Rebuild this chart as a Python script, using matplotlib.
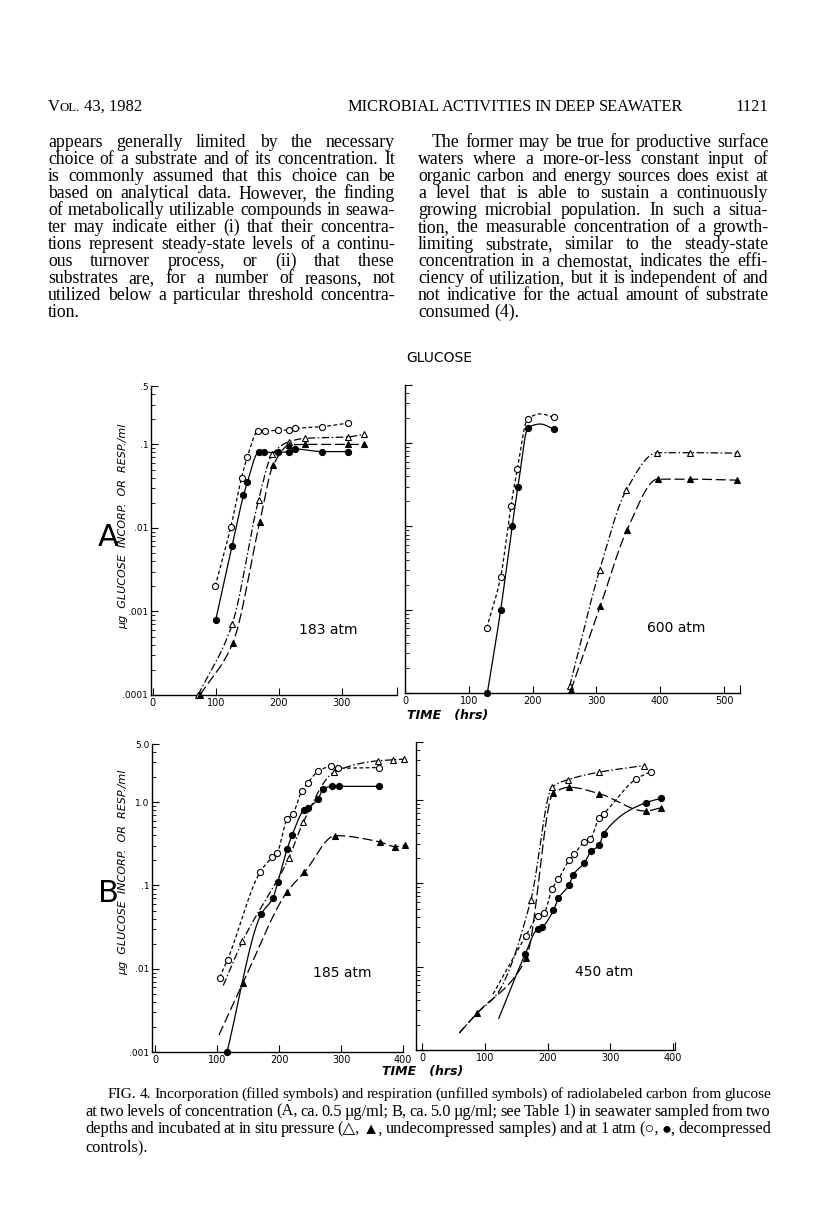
import numpy as np
import matplotlib
matplotlib.use("Agg")
import matplotlib.pyplot as plt
from matplotlib.ticker import LogLocator, NullFormatter, FixedLocator

W, H = 816, 1211

# ---------------- data (hours, ug/ml) ----------------
# Panel A, 183 atm
a183_oc_t = [99, 124, 141, 150, 167, 178, 199, 216, 226, 269, 310]
a183_oc_v = [0.002, 0.0104, 0.040, 0.071, 0.143, 0.143, 0.148, 0.148, 0.155, 0.163, 0.18]
a183_fc_t = [100, 126, 144, 150, 168, 177, 199, 216, 226, 269, 310]
a183_fc_v = [0.0008, 0.0061, 0.0245, 0.035, 0.080, 0.080, 0.080, 0.082, 0.088, 0.082, 0.082]
a183_ot_t = [72, 126, 168, 190, 217, 241, 310, 336]
a183_ot_v = [0.0001, 0.0007, 0.0216, 0.077, 0.108, 0.118, 0.123, 0.132]
a183_ft_t = [75, 127, 170, 191, 217, 241, 310, 336]
a183_ft_v = [0.0001, 0.00042, 0.0119, 0.056, 0.098, 0.100, 0.100, 0.100]

# Panel A, 600 atm
a600_oc_t = [128, 150, 166, 176, 192, 233]
a600_oc_v = [0.0006, 0.0025, 0.0177, 0.049, 0.194, 0.205]
a600_fc_t = [129, 150, 168, 177, 193, 234]
a600_fc_v = [0.0001, 0.001, 0.0102, 0.030, 0.154, 0.147]
a600_ot_t = [258, 305, 347, 395, 447, 520]
a600_ot_v = [0.00012, 0.003, 0.0275, 0.077, 0.077, 0.076]
a600_ft_t = [260, 306, 348, 396, 447, 520]
a600_ft_v = [0.000108, 0.0011, 0.0091, 0.037, 0.037, 0.036]
# smooth hump of the 1-atm curves between the last two samples
a600_oc_knot_t, a600_oc_knot_v = [212], [0.225]
a600_fc_knot_t, a600_fc_knot_v = [212], [0.17]

# Panel B, 185 atm
b185_oc_t = [104, 117, 170, 189, 197, 213, 222, 237, 246, 263, 284, 295, 362]
b185_oc_v = [0.0078, 0.0129, 0.147, 0.218, 0.248, 0.624, 0.72, 1.38, 1.69, 2.34, 2.69, 2.56, 2.61]
b185_fc_t = [116, 171, 190, 198, 213, 221, 240, 247, 263, 271, 285, 296, 362]
b185_fc_v = [0.001, 0.045, 0.0706, 0.109, 0.274, 0.40, 0.80, 0.855, 1.10, 1.43, 1.55, 1.55, 1.55]
b185_ot_t = [141, 216, 239, 289, 359, 384, 402]
b185_ot_v = [0.0214, 0.216, 0.574, 2.3, 3.14, 3.23, 3.29]
b185_ft_t = [142, 213, 241, 291, 363, 387, 403]
b185_ft_v = [0.0068, 0.084, 0.144, 0.397, 0.333, 0.293, 0.304]
# curve starts without symbols
b185_ot_lead_t, b185_ot_lead_v = [110], [0.0063]
b185_ft_lead_t, b185_ft_lead_v = [103], [0.0016]

# Panel B, 450 atm
b450_oc_t = [165, 185, 194, 207, 217, 234, 242, 258, 268, 282, 289, 341, 364]
b450_oc_v = [0.0233, 0.041, 0.0437, 0.087, 0.112, 0.19, 0.223, 0.313, 0.343, 0.614, 0.686, 1.80, 2.19]
b450_fc_t = [164, 184, 191, 209, 217, 234.5, 241, 258.6, 269, 282, 289, 356, 380]
b450_fc_v = [0.0141, 0.0286, 0.030, 0.0474, 0.066, 0.097, 0.128, 0.177, 0.244, 0.286, 0.394, 0.93, 1.05]
b450_ot_t = [173, 207, 233, 282, 354]
b450_ot_v = [0.0625, 1.43, 1.77, 2.17, 2.61]
b450_ft_t = [87, 166, 209, 234.5, 282, 356, 380]
b450_ft_v = [0.00275, 0.0128, 1.22, 1.43, 1.2, 0.74, 0.81]
b450_ot_lead_t, b450_ot_lead_v = [59, 87, 120], [0.0016, 0.00275, 0.0048]
b450_ft_lead_t, b450_ft_lead_v = [59], [0.0016]
b450_oc_lead_t, b450_oc_lead_v = [113], [0.0047]
b450_fc_lead_t, b450_fc_lead_v = [122], [0.0024]

a_yticks = [1e-4, 1e-3, 1e-2, 1e-1, 0.5]
a_ylabels = [".0001", ".001", ".01", ".1", ".5"]
b_yticks = [1e-3, 1e-2, 1e-1, 1.0, 5.0]
b_ylabels = [".001", ".01", ".1", "1.0", "5.0"]

# ---------------- helpers ----------------
def pchip(x, y, xn):
    x = np.asarray(x, float); y = np.asarray(y, float)
    h = np.diff(x); d = np.diff(y) / h
    n = len(x)
    m = np.zeros(n)
    for k in range(1, n - 1):
        if d[k - 1] * d[k] <= 0:
            m[k] = 0.0
        else:
            w1 = 2 * h[k] + h[k - 1]; w2 = h[k] + 2 * h[k - 1]
            m[k] = (w1 + w2) / (w1 / d[k - 1] + w2 / d[k])
    m[0] = d[0]; m[-1] = d[-1]
    idx = np.clip(np.searchsorted(x, xn) - 1, 0, n - 2)
    t = (xn - x[idx]) / h[idx]
    h00 = 2 * t**3 - 3 * t**2 + 1; h10 = t**3 - 2 * t**2 + t
    h01 = -2 * t**3 + 3 * t**2; h11 = t**3 - t**2
    return h00 * y[idx] + h10 * h[idx] * m[idx] + h01 * y[idx + 1] + h11 * h[idx] * m[idx + 1]

def curve(ax, t, v, ls, lead_t=(), lead_v=()):
    tt = list(lead_t) + list(t); vv = list(lead_v) + list(v)
    order = np.argsort(tt, kind="stable")
    tt = np.array(tt, float)[order]; vv = np.array(vv, float)[order]
    keep = np.concatenate([[True], np.diff(tt) > 0])
    tt, vv = tt[keep], vv[keep]
    xn = np.linspace(tt[0], tt[-1], 400)
    yn = 10 ** pchip(tt, np.log10(vv), xn)
    ax.plot(xn, yn, color="black", lw=0.9, ls=ls, zorder=2, clip_on=False)

def marks(ax, t, v, marker, filled):
    ax.plot(t, v, ls="none", marker=marker, ms=4.4 if marker == "o" else 4.8,
            mfc="black" if filled else "white", mec="black", mew=0.8,
            zorder=3, clip_on=False)

LS_OC = (0, (3.0, 2.0))
LS_FC = "-"
LS_OT = (0, (6.0, 2.0, 1.2, 2.0))
LS_FT = (0, (8.0, 3.0))

def series(ax, oc, fc, ot, ft, leads=None):
    leads = leads or {}
    curve(ax, *oc, LS_OC, *leads.get("oc", ((), ())))
    curve(ax, *fc, LS_FC, *leads.get("fc", ((), ())))
    curve(ax, *ot, LS_OT, *leads.get("ot", ((), ())))
    curve(ax, *ft, LS_FT, *leads.get("ft", ((), ())))
    marks(ax, *oc, "o", False)
    marks(ax, *fc, "o", True)
    marks(ax, *ot, "^", False)
    marks(ax, *ft, "^", True)

def setup(ax, xlim, ylim, xticks, yticks, ylabels):
    ax.set_yscale("log")
    ax.set_xlim(*xlim); ax.set_ylim(*ylim)
    ax.patch.set_alpha(0)
    for s in ("top", "right"):
        ax.spines[s].set_visible(False)
    for s in ("left", "bottom"):
        ax.spines[s].set_linewidth(1.0)
    ax.set_xticks(xticks)
    ax.set_xticklabels([str(x) for x in xticks], fontsize=7, family="DejaVu Sans")
    ax.xaxis.set_minor_locator(FixedLocator([xlim[1]]))
    ax.set_yticks(yticks)
    ax.set_yticklabels(ylabels if ylabels else [""] * len(yticks), fontsize=6.5,
                       family="DejaVu Sans")
    ax.yaxis.set_minor_locator(LogLocator(base=10, subs=np.arange(2, 10)))
    ax.yaxis.set_minor_formatter(NullFormatter())
    ax.tick_params(which="major", direction="in", length=5, width=0.8, pad=2)
    ax.tick_params(axis="y", which="minor", direction="in", length=3, width=0.6)
    ax.tick_params(axis="x", which="minor", direction="in", length=6, width=0.8)

def axes_px(fig, x0, x1, ytop, ybot):
    return fig.add_axes([x0 / W, 1 - ybot / H, (x1 - x0) / W, (ybot - ytop) / H])

# ---------------- figure ----------------
fig = plt.figure(figsize=(W / 100, H / 100), dpi=100)
fig.patch.set_facecolor("white")

axA1 = axes_px(fig, 151, 397, 386, 695)
setup(axA1, (-3, 388), (1e-4, 0.5), [0, 100, 200, 300], a_yticks, a_ylabels)
series(axA1, (a183_oc_t, a183_oc_v), (a183_fc_t, a183_fc_v),
       (a183_ot_t, a183_ot_v), (a183_ft_t, a183_ft_v))
axA1.text(0.72, 0.21, "183 atm", transform=axA1.transAxes, ha="center", va="center",
          fontsize=10, family="DejaVu Sans")

axA2 = axes_px(fig, 405, 740, 385, 693)
setup(axA2, (0, 525), (1e-4, 0.5), [0, 100, 200, 300, 400, 500], a_yticks, None)
series(axA2, (a600_oc_t, a600_oc_v), (a600_fc_t, a600_fc_v),
       (a600_ot_t, a600_ot_v), (a600_ft_t, a600_ft_v),
       leads={"oc": (a600_oc_knot_t, a600_oc_knot_v), "fc": (a600_fc_knot_t, a600_fc_knot_v)})
axA2.text(0.81, 0.21, "600 atm", transform=axA2.transAxes, ha="center", va="center",
          fontsize=10, family="DejaVu Sans")

axB1 = axes_px(fig, 152, 403, 744, 1052)
setup(axB1, (-5, 400), (1e-3, 5.0), [0, 100, 200, 300, 400], b_yticks, b_ylabels)
series(axB1, (b185_oc_t, b185_oc_v), (b185_fc_t, b185_fc_v),
       (b185_ot_t, b185_ot_v), (b185_ft_t, b185_ft_v),
       leads={"ot": (b185_ot_lead_t, b185_ot_lead_v), "ft": (b185_ft_lead_t, b185_ft_lead_v)})
axB1.text(0.757, 0.256, "185 atm", transform=axB1.transAxes, ha="center", va="center",
          fontsize=10, family="DejaVu Sans")

axB2 = axes_px(fig, 416, 675, 742, 1050)
setup(axB2, (-10, 403), (1e-3, 5.0), [0, 100, 200, 300, 400], b_yticks, None)
series(axB2, (b450_oc_t, b450_oc_v), (b450_fc_t, b450_fc_v),
       (b450_ot_t, b450_ot_v), (b450_ft_t, b450_ft_v),
       leads={"ot": (b450_ot_lead_t, b450_ot_lead_v), "ft": (b450_ft_lead_t, b450_ft_lead_v),
              "oc": (b450_oc_lead_t, b450_oc_lead_v), "fc": (b450_fc_lead_t, b450_fc_lead_v)})
axB2.text(0.726, 0.253, "450 atm", transform=axB2.transAxes, ha="center", va="center",
          fontsize=10, family="DejaVu Sans")

def ftext(x, y, s, **kw):
    return fig.text(x / W, 1 - y / H, s, **kw)

# panel letters, labels
ftext(108, 538, "A", fontsize=22, ha="center", va="center", family="DejaVu Sans")
ftext(108, 893, "B", fontsize=22, ha="center", va="center", family="DejaVu Sans")
ylab = "\u00b5g  GLUCOSE  INCORP.  OR  RESP./ml"
ftext(123, 526, ylab, rotation=90, fontsize=8, style="italic", ha="center", va="center",
      family="DejaVu Sans")
ftext(123, 872, ylab, rotation=90, fontsize=8, style="italic", ha="center", va="center",
      family="DejaVu Sans")
ftext(448, 716, "TIME   (hrs)", fontsize=9, style="italic", ha="center", va="center",
      family="DejaVu Sans", weight="bold")
ftext(423, 1072, "TIME   (hrs)", fontsize=9, style="italic", ha="center", va="center",
      family="DejaVu Sans", weight="bold")
ftext(439, 358, "GLUCOSE", fontsize=10, ha="center", va="center", family="DejaVu Sans")

# ---------------- page text ----------------
renderer = fig.canvas.get_renderer()
SERIF = ["Liberation Serif", "DejaVu Sans"]

def measure(s, size):
    t = fig.text(0, 0, s, fontsize=size, family=SERIF)
    w = t.get_window_extent(renderer).width
    t.remove()
    return w

def line_out(text, x0, x1, ybase, size, justify=True):
    words = text.split()
    while True:
        widths = [measure(w, size) for w in words]
        space = measure("a a", size) - measure("aa", size)
        total = sum(widths)
        if len(words) > 1 and total + (len(words) - 1) * space * 0.55 > (x1 - x0):
            size *= 0.98
            continue
        break
    if justify and len(words) > 1:
        gap = (x1 - x0 - total) / (len(words) - 1)
    else:
        gap = space
    x = x0
    for w, wd in zip(words, widths):
        ftext(x, ybase, w, fontsize=size, family=SERIF, ha="left", va="baseline")
        x += wd + gap

def paragraph(lines, x0, x1, y0, dy, size, first_indent=0, last_justify=False):
    for i, ln in enumerate(lines):
        xs = x0 + (first_indent if i == 0 else 0)
        just = (i < len(lines) - 1) or last_justify
        line_out(ln, xs, x1, y0 + i * dy, size, justify=just)

# header
HS = 12
ftext(48, 111, "V", fontsize=HS, family=SERIF, ha="left", va="baseline")
ftext(48 + measure("V", HS), 111, "OL.", fontsize=9.3, family=SERIF, ha="left", va="baseline")
ftext(48 + measure("V", HS) + measure("OL. ", 9.3), 111, "43, 1982", fontsize=HS,
      family=SERIF, ha="left", va="baseline")
line_out("MICROBIAL ACTIVITIES IN DEEP SEAWATER", 347, 683, 111, HS, justify=True)
ftext(768, 111, "1121", fontsize=HS, family=SERIF, ha="right", va="baseline")

left_col = [
    "appears generally limited by the necessary",
    "choice of a substrate and of its concentration. It",
    "is commonly assumed that this choice can be",
    "based on analytical data. However, the finding",
    "of metabolically utilizable compounds in seawa-",
    "ter may indicate either (i) that their concentra-",
    "tions represent steady-state levels of a continu-",
    "ous turnover process, or (ii) that these",
    "substrates are, for a number of reasons, not",
    "utilized below a particular threshold concentra-",
    "tion.",
]
right_col = [
    "The former may be true for productive surface",
    "waters where a more-or-less constant input of",
    "organic carbon and energy sources does exist at",
    "a level that is able to sustain a continuously",
    "growing microbial population. In such a situa-",
    "tion, the measurable concentration of a growth-",
    "limiting substrate, similar to the steady-state",
    "concentration in a chemostat, indicates the effi-",
    "ciency of utilization, but it is independent of and",
    "not indicative for the actual amount of substrate",
    "consumed (4).",
]
paragraph(left_col, 48, 395, 147, 17, 12.8)
paragraph(right_col, 418, 768, 147, 17, 12.8, first_indent=14)

caption = [
    "FIG. 4. Incorporation (filled symbols) and respiration (unfilled symbols) of radiolabeled carbon from glucose",
    "at two levels of concentration (A, ca. 0.5 \u00b5g/ml; B, ca. 5.0 \u00b5g/ml; see Table 1) in seawater sampled from two",
    "depths and incubated at in situ pressure (\u25b3, \u25b2, undecompressed samples) and at 1 atm (\u25cb, \u25cf, decompressed",
    "controls).",
]
paragraph(caption, 85, 771, 1098, 17.7, 11.8, first_indent=23)

fig.savefig("out.png", dpi=100)
